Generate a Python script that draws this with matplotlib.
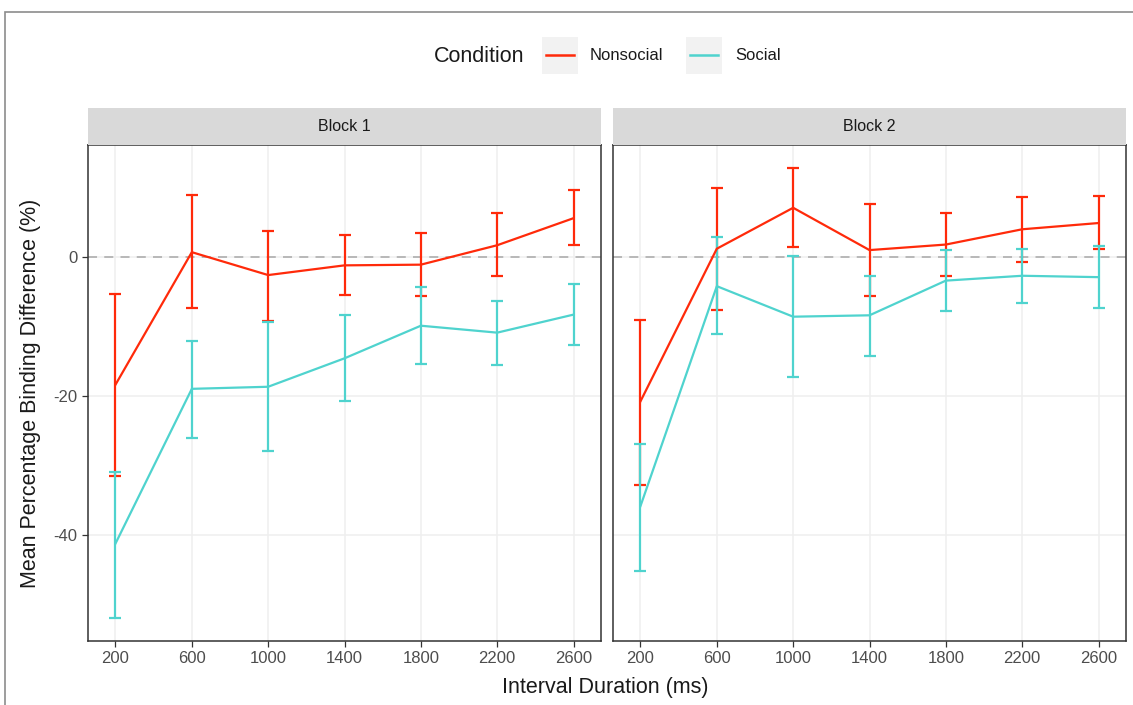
import numpy as np
import matplotlib
matplotlib.use("Agg")
import matplotlib.pyplot as plt
from matplotlib.patches import Rectangle
from matplotlib.lines import Line2D

plt.rcParams["font.family"] = ["Liberation Sans", "DejaVu Sans"]
plt.rcParams["axes.unicode_minus"] = False

RED, TEAL = "#FF2A0A", "#4FD3CE"
TICK, GRID = "#4D4D4D", "#EFEFEF"

durations = [200, 600, 1000, 1400, 1800, 2200, 2600]
blocks = ["Block 1", "Block 2"]

# mean, lower and upper ends of the error bars, per block
nonsocial_mean = [[-18.4, 0.7, -2.6, -1.2, -1.1, 1.7, 5.6],
                  [-20.8, 1.2, 7.1, 1.0, 1.8, 4.0, 4.9]]
nonsocial_lo = [[-31.6, -7.3, -9.2, -5.5, -5.6, -2.8, 1.7],
                [-32.8, -7.6, 1.5, -5.6, -2.8, -0.7, 1.1]]
nonsocial_hi = [[-5.3, 8.9, 3.8, 3.2, 3.5, 6.3, 9.6],
                [-9.1, 9.9, 12.9, 7.6, 6.3, 8.6, 8.8]]
social_mean = [[-41.3, -19.0, -18.7, -14.6, -9.9, -10.9, -8.3],
               [-35.9, -4.2, -8.6, -8.4, -3.4, -2.7, -2.9]]
social_lo = [[-52.1, -26.1, -28.0, -20.8, -15.4, -15.6, -12.7],
             [-45.2, -11.1, -17.3, -14.2, -7.8, -6.6, -7.3]]
social_hi = [[-31.0, -12.1, -9.3, -8.4, -4.3, -6.4, -3.9],
             [-26.9, 2.9, 0.1, -2.7, 1.0, 1.2, 1.6]]

W, H = 1133, 705
fig = plt.figure(figsize=(W / 100, H / 100), dpi=100)

def fx(px):
    return px / W

def fy(py):
    return 1 - py / H

# outer frame of the original screenshot
fig.add_artist(Rectangle((fx(5), fy(720)), fx(1140), fy(12) - fy(720),
                         transform=fig.transFigure, fill=False,
                         edgecolor="#8c8c8c", linewidth=1.2))

series = [("Nonsocial", RED, nonsocial_mean, nonsocial_lo, nonsocial_hi),
          ("Social", TEAL, social_mean, social_lo, social_hi)]

panels = [(88, 601), (613, 1126)]
top, bot = 145, 641
for b, (l, r) in enumerate(panels):
    ax = fig.add_axes([fx(l), fy(bot), fx(r - l), fy(top) - fy(bot)])
    ax.set_xlim(56, 2744)
    ax.set_ylim(-55.35, 16.15)
    ax.set_xticks(durations)
    ax.set_yticks([-40, -20, 0])
    ax.grid(True, color=GRID, linewidth=1.1, zorder=0)
    ax.set_axisbelow(True)
    ax.axhline(0, color="#b3b3b3", linestyle=(0, (5, 4)), linewidth=1.3, zorder=1)
    for name, col, m, lo, hi in series:
        mean = np.array(m[b])
        yerr = np.vstack([mean - np.array(lo[b]), np.array(hi[b]) - mean])
        ax.errorbar(durations, mean, yerr=yerr, color=col, linewidth=1.6,
                    elinewidth=1.6, capsize=4, capthick=1.6, zorder=3)
    for s in ax.spines.values():
        s.set_color("#333333")
        s.set_linewidth(1.1)
    ax.tick_params(colors="#333333", labelcolor=TICK, labelsize=12,
                   length=4, width=0.9)
    if b == 1:
        ax.tick_params(axis="y", labelleft=False, length=0)
    # facet strip
    sx = fig.add_axes([fx(l), fy(top), fx(r - l), fy(108) - fy(top)])
    sx.set_facecolor("#D9D9D9")
    sx.set_xticks([]); sx.set_yticks([])
    for s in sx.spines.values():
        s.set_visible(False)
    sx.text(0.5, 0.5, blocks[b], ha="center", va="center", fontsize=11.5,
            color="#1a1a1a", transform=sx.transAxes)

fig.text(fx(605), fy(688), "Interval Duration (ms)", ha="center", va="center",
         fontsize=15.5, color="#1a1a1a")
fig.text(fx(31), fy(393), "Mean Percentage Binding Difference (%)", ha="center",
         va="center", rotation=90, fontsize=15.5, color="#1a1a1a")

# legend row at the top
fig.text(fx(479), fy(56), "Condition", ha="center", va="center", fontsize=15.5,
         color="#1a1a1a")
for (name, col, *_), kx, tx in zip(series, [542, 686], [590, 735]):
    fig.add_artist(Rectangle((fx(kx), fy(74)), fx(36), fy(37) - fy(74),
                             transform=fig.transFigure, facecolor="#F2F2F2",
                             edgecolor="none"))
    fig.add_artist(Line2D([fx(kx + 4), fx(kx + 32)], [fy(55), fy(55)],
                          transform=fig.transFigure, color=col, linewidth=1.8))
    fig.text(fx(tx), fy(55), name, ha="left", va="center", fontsize=12,
             color="#1a1a1a")

fig.savefig("out.png", dpi=100)
